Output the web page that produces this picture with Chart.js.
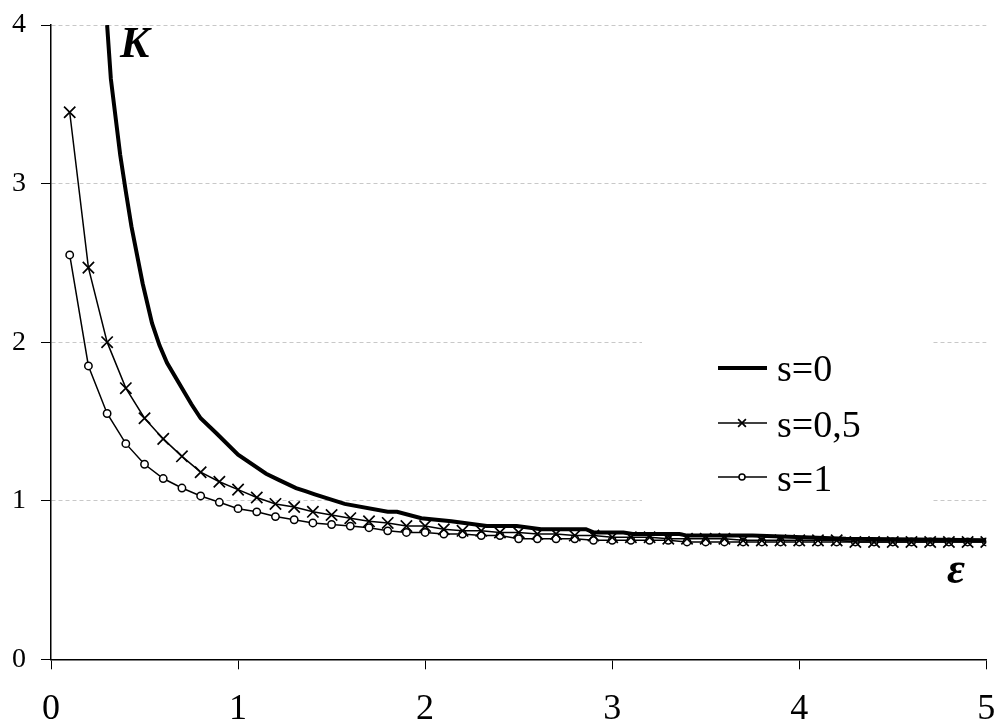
<!DOCTYPE html>
<html><head><meta charset="utf-8">
<script src="https://cdn.jsdelivr.net/npm/chart.js@4.4.0/dist/chart.umd.min.js"></script>
<style>html,body{margin:0;padding:0;background:#fff;overflow:hidden}#wrap{width:996px;height:720px;position:relative}</style>
</head><body><div id="wrap"><canvas id="c" width="996" height="720"></canvas></div>
<script>
// Data
const xValues = [0.1,0.2,0.3,0.4,0.5,0.6,0.7,0.8,0.9,1.0,
                 1.1,1.2,1.3,1.4,1.5,1.6,1.7,1.8,1.9,2.0,
                 2.1,2.2,2.3,2.4,2.5,2.6,2.7,2.8,2.9,3.0,
                 3.1,3.2,3.3,3.4,3.5,3.6,3.7,3.8,3.9,4.0,
                 4.1,4.2,4.3,4.4,4.5,4.6,4.7,4.8,4.9,5.0];
const s05Values = [3.45,2.47,2.00,1.71,1.52,1.39,1.28,1.18,1.12,1.07,
                   1.02,0.98,0.96,0.93,0.91,0.89,0.87,0.86,0.84,0.84,
                   0.82,0.81,0.81,0.80,0.80,0.79,0.79,0.78,0.78,0.77,
                   0.77,0.77,0.76,0.76,0.76,0.76,0.75,0.75,0.75,0.75,
                   0.75,0.75,0.74,0.74,0.74,0.74,0.74,0.74,0.74,0.74];
const s1Values = [2.55,1.85,1.55,1.36,1.23,1.14,1.08,1.03,0.99,0.95,
                  0.93,0.90,0.88,0.86,0.85,0.84,0.83,0.81,0.80,0.80,
                  0.79,0.79,0.78,0.78,0.76,0.76,0.76,0.76,0.75,0.75,
                  0.75,0.75,0.75,0.74,0.74,0.74,0.74,0.74,0.74,0.74,
                  0.74,0.74,0.74,0.74,0.74,0.74,0.74,0.74,0.74,0.74];
const s0X = [0.30,0.32,0.37,0.40,0.43,0.49,0.54,0.58,0.62,0.75,0.80,0.88,1.00,1.15,1.22,1.31,1.36,1.41,1.57,1.80,1.85,1.98,2.14,2.33,2.49,2.62,2.86,2.90,3.06,3.11,3.36,3.40,3.75,4.25,5.00];
const s0Y = [4.00,3.66,3.18,2.95,2.73,2.37,2.12,1.98,1.87,1.61,1.52,1.43,1.29,1.17,1.13,1.08,1.06,1.04,0.98,0.93,0.93,0.89,0.87,0.84,0.84,0.82,0.82,0.80,0.80,0.79,0.79,0.78,0.78,0.76,0.75];
const seriesLabels = ['s=0','s=0,5','s=1'];
const xTicks = [0,1,2,3,4,5];
const yTicks = [0,1,2,3,4];

const serif = "'Liberation Serif','Times New Roman',serif";

const annot = {
  id: 'annot',
  afterDraw(chart) {
    const ctx = chart.ctx;
    const ds = chart.data.datasets;
    ctx.save();
    // legend box
    ctx.fillStyle = '#fff';
    ctx.fillRect(642, 334, 291, 178);
    const rows = [368, 423, 477];
    const baselines = [381, 437, 491];
    const legendRadius = [0, 5.5, 3];
    ds.forEach((d, i) => {
      const y = rows[i];
      ctx.strokeStyle = d.borderColor;
      ctx.lineWidth = d.borderWidth;
      ctx.setLineDash([]);
      ctx.beginPath(); ctx.moveTo(718, y); ctx.lineTo(767, y); ctx.stroke();
      if (d.pointRadius > 0) {
        ctx.fillStyle = d.pointBackgroundColor || '#000';
        ctx.strokeStyle = d.pointBorderColor || '#000';
        ctx.lineWidth = d.pointBorderWidth;
        Chart.helpers.drawPoint(ctx, {
          pointStyle: d.pointStyle, radius: legendRadius[i], rotation: 0,
          borderWidth: d.pointBorderWidth
        }, 742, y);
      }
      ctx.fillStyle = '#000';
      ctx.font = '38px ' + serif;
      ctx.textAlign = 'left';
      ctx.textBaseline = 'alphabetic';
      ctx.fillText(d.label, 777, baselines[i]);
    });
    // axis letters
    ctx.font = 'bold italic 44px ' + serif;
    ctx.fillStyle = '#000';
    ctx.fillText('K', 120, 57);
    ctx.fillText('\u03B5', 947, 583);
    ctx.restore();
  }
};

const ctx = document.getElementById('c').getContext('2d');
new Chart(ctx, {
  type: 'line',
  data: {
    datasets: [
      { label: seriesLabels[0], data: s0X.map((x, i) => ({ x, y: s0Y[i] })),
        borderColor: '#000', borderWidth: 4, pointRadius: 0, tension: 0, fill: false },
      { label: seriesLabels[1], data: xValues.map((x, i) => ({ x, y: s05Values[i] })),
        borderColor: '#000', borderWidth: 1.5, pointStyle: 'crossRot', pointRadius: 8,
        pointBorderWidth: 1.7, pointBorderColor: '#000', pointBackgroundColor: '#000', tension: 0, fill: false },
      { label: seriesLabels[2], data: xValues.map((x, i) => ({ x, y: s1Values[i] })),
        borderColor: '#000', borderWidth: 1.5, pointStyle: 'circle', pointRadius: 3.7,
        pointBorderWidth: 1.5, pointBorderColor: '#000', pointBackgroundColor: '#fff', tension: 0, fill: false }
    ]
  },
  options: {
    responsive: false, animation: false,
    layout: { padding: { top: 25, right: 4, left: 0, bottom: 0 } },
    plugins: { legend: { display: false }, tooltip: { enabled: false } },
    scales: {
      x: {
        type: 'linear', min: 0, max: 5,
        afterBuildTicks: s => { s.ticks = xTicks.map(v => ({ value: v })); },
        ticks: { font: { family: serif, size: 36 }, color: '#000', padding: 19, maxRotation: 0 },
        grid: { drawOnChartArea: false, drawTicks: true, tickLength: 10, tickColor: '#000', tickWidth: 1 },
        border: { color: '#000', width: 1.5 },
        afterFit: s => { s.height = 60.7; s.paddingLeft = 0; s.paddingRight = 0; }
      },
      y: {
        type: 'linear', min: 0, max: 4,
        afterBuildTicks: s => { s.ticks = yTicks.map(v => ({ value: v })); },
        ticks: { font: { family: serif, size: 28 }, color: '#000', padding: 15 },
        grid: { color: '#c8c8c8', lineWidth: 1, tickLength: 10, tickColor: '#000', tickWidth: 1, tickBorderDash: [] },
        border: { color: '#000', width: 1.5, dash: [4, 3] },
        afterFit: s => { s.width = 51; s.paddingTop = 0; s.paddingBottom = 0; }
      }
    }
  },
  plugins: [annot]
});
</script></body></html>
